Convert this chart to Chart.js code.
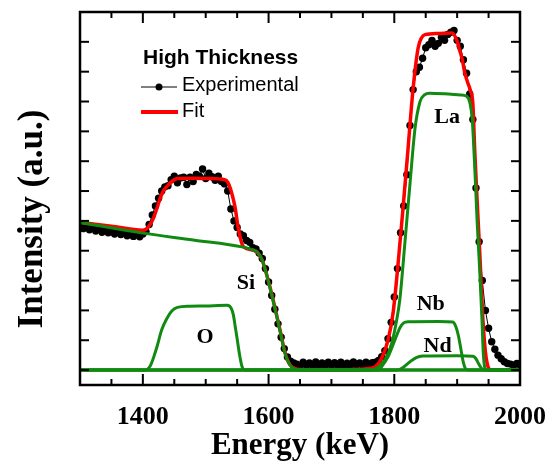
<!DOCTYPE html>
<html>
<head>
<meta charset="utf-8">
<script src="https://cdn.jsdelivr.net/npm/chart.js@4.4.1/dist/chart.umd.min.js"></script>
<style>
  html, body { margin: 0; padding: 0; background: #fff; }
  #chart { display: block; }
</style>
</head>
<body>
<canvas id="chart" width="548" height="465"></canvas>
<script>
// experimental spectrum (keV, a.u.)
const expEnergy = [
  1300, 1305, 1310, 1315, 1320, 1325, 1330, 1335, 1340, 1345, 1350, 1355, 1360, 1365, 1370, 1375, 1380, 1385, 1390, 1395,
  1400, 1405, 1410, 1415, 1420, 1425, 1430, 1435, 1440, 1445, 1450, 1455, 1460, 1465, 1470, 1475, 1480, 1485, 1490, 1495,
  1500, 1505, 1510, 1515, 1520, 1525, 1530, 1535, 1540, 1545, 1550, 1555, 1560, 1565, 1570, 1575, 1580, 1585, 1590, 1595,
  1600, 1605, 1610, 1615, 1620, 1625, 1630, 1635, 1640, 1645, 1650, 1655, 1660, 1665, 1670, 1675, 1680, 1685, 1690, 1695,
  1700, 1705, 1710, 1715, 1720, 1725, 1730, 1735, 1740, 1745, 1750, 1755, 1760, 1765, 1770, 1775, 1780, 1785, 1790, 1795,
  1800, 1805, 1810, 1815, 1820, 1825, 1830, 1835, 1840, 1845, 1850, 1855, 1860, 1865, 1870, 1875, 1880, 1885, 1890, 1895,
  1900, 1905, 1910, 1915, 1920, 1925, 1930, 1935, 1940, 1945, 1950, 1955, 1960, 1965, 1970, 1975, 1980, 1985, 1990, 1995,
  2000
];
const expIntensity = [
  4.88, 4.74, 4.82, 4.70, 4.80, 4.66, 4.78, 4.62, 4.74, 4.60, 4.70, 4.56, 4.68, 4.54, 4.64, 4.50, 4.62, 4.48, 4.60, 4.47,
  4.56, 4.64, 4.88, 5.20, 5.50, 5.76, 6.00, 6.14, 6.18, 6.38, 6.50, 6.28, 6.44, 6.46, 6.22, 6.46, 6.32, 6.56, 6.50, 6.74,
  6.42, 6.60, 6.48, 6.36, 6.50, 6.32, 6.24, 6.00, 5.40, 5.00, 4.78, 4.56, 4.50, 4.34, 4.28, 4.10, 4.06, 3.92, 3.74, 3.40,
  2.95, 2.50, 2.04, 1.55, 1.10, 0.72, 0.44, 0.30, 0.24, 0.20, 0.14, 0.26, 0.16, 0.24, 0.14, 0.27, 0.15, 0.24, 0.13, 0.26,
  0.16, 0.25, 0.14, 0.26, 0.16, 0.23, 0.14, 0.27, 0.16, 0.24, 0.15, 0.26, 0.18, 0.25, 0.26, 0.32, 0.45, 0.65, 1.05, 1.60,
  2.45, 3.40, 4.60, 5.50, 6.55, 8.20, 9.40, 10.00, 10.15, 10.45, 10.80, 10.90, 11.05, 10.85, 10.95, 11.15, 11.05, 11.25, 11.32, 11.38,
  11.05, 10.85, 10.40, 9.95, 9.25, 8.40, 6.10, 4.30, 3.00, 2.00, 1.40, 0.95, 0.70, 0.50, 0.38, 0.28, 0.22, 0.20, 0.16, 0.22,
  0.17
];

// total fit
const fitEnergy = [1300, 1350, 1400, 1405, 1411, 1416, 1422, 1427, 1432, 1438, 1446, 1455, 1480, 1505, 1530, 1535, 1539, 1543, 1547, 1551,
  1556, 1560, 1575, 1582, 1590, 1602, 1618, 1626, 1634, 1650, 1700, 1760, 1770, 1780, 1790, 1798, 1806, 1814, 1822, 1830,
  1838, 1843, 1849, 1870, 1892, 1900, 1904, 1908, 1912, 1917, 1921, 1925, 1928, 1932, 1936, 1941, 1945, 1948, 1952, 2000];
const fitIntensity = [4.95, 4.82, 4.69, 4.72, 4.86, 5.05, 5.40, 5.72, 5.98, 6.15, 6.32, 6.42, 6.43, 6.42, 6.38, 6.30, 6.10, 5.80, 5.42, 4.85,
  4.35, 4.13, 4.02, 3.95, 3.68, 2.80, 1.36, 0.60, 0.18, 0.02, 0.00, 0.05, 0.12, 0.40, 1.00, 1.90, 3.55, 5.45, 7.45, 9.45,
  10.80, 11.12, 11.24, 11.28, 11.30, 11.02, 10.72, 10.42, 9.98, 9.62, 9.38, 8.92, 7.35, 5.60, 3.92, 1.70, 0.60, 0.20, 0.02, 0.00];

// components
const siEnergy = [1300, 1400, 1480, 1560, 1575, 1582, 1590, 1602, 1618, 1626, 1634, 1642, 1650, 2000];
const siIntensity = [4.95, 4.59, 4.36, 4.12, 4.03, 3.96, 3.68, 2.78, 1.34, 0.57, 0.17, 0.03, 0.00, 0.00];

const oEnergy = [1300, 1403, 1412, 1422, 1430, 1438, 1446, 1455, 1475, 1500, 1534, 1538, 1541, 1544, 1547, 1550, 1554, 1558, 1562, 2000];
const oIntensity = [0.00, 0.00, 0.15, 0.75, 1.35, 1.72, 1.98, 2.10, 2.14, 2.15, 2.17, 2.14, 2.05, 1.85, 1.45, 1.05, 0.50, 0.10, 0.00, 0.00];

const laEnergy = [1300, 1765, 1772, 1785, 1796, 1804, 1809, 1817, 1825, 1833, 1841, 1848, 1856, 1880, 1905, 1915, 1920, 1924, 1928, 1932,
  1936, 1939.5, 1941.5, 1944.5, 1948, 2000];
const laIntensity = [0.00, 0.00, 0.07, 0.34, 0.90, 1.70, 2.40, 4.30, 6.25, 8.10, 9.00, 9.22, 9.28, 9.26, 9.22, 9.18, 8.98, 8.40, 6.80, 4.90,
  3.30, 1.70, 0.60, 0.05, 0.00, 0.00];

const nbEnergy = [1300, 1775, 1780, 1790, 1801, 1809, 1815, 1822, 1870, 1893, 1898, 1902, 1906, 1910, 1914, 1918, 2000];
const nbIntensity = [0.00, 0.00, 0.12, 0.44, 1.01, 1.42, 1.58, 1.62, 1.63, 1.61, 1.45, 1.15, 0.70, 0.25, 0.03, 0.00, 0.00];

const ndEnergy = [1300, 1805, 1812, 1825, 1835, 1845, 1900, 1925, 1930, 1934, 1938, 1942, 2000];
const ndIntensity = [0.00, 0.00, 0.06, 0.28, 0.42, 0.47, 0.48, 0.46, 0.38, 0.22, 0.08, 0.00, 0.00];

// axes
const xTickLabels = [1400, 1600, 1800, 2000];
const xTickMarks = [1300, 1350, 1400, 1450, 1500, 1550, 1600, 1650, 1700, 1750, 1800, 1850, 1900, 1950, 2000];
const yTickMarks = [0, 1, 2, 3, 4, 5, 6, 7, 8, 9, 10, 11, 12];

// peak names, in data coordinates
const peakLabels = [
  { text: 'La', x: 1884, y: 8.48 },
  { text: 'Si', x: 1564, y: 2.92 },
  { text: 'O', x: 1499, y: 1.11 },
  { text: 'Nb', x: 1858, y: 2.21 },
  { text: 'Nd', x: 1869, y: 0.80 }
];

const GREEN = '#118a11';
const SERIF = "'Liberation Serif', 'Times New Roman', serif";
const SANS = "'Liberation Sans', Arial, sans-serif";

function pairs(xs, ys) {
  return xs.map((x, i) => ({ x: x, y: ys[i] }));
}

function component(label, xs, ys) {
  return {
    label: label,
    data: pairs(xs, ys),
    borderColor: GREEN,
    borderWidth: 3,
    pointRadius: 0,
    cubicInterpolationMode: 'monotone',
    order: 0
  };
}

const decorPlugin = {
  id: 'decor',
  afterDatasetsDraw(chart) {
    const { ctx, chartArea: a, scales: { x, y } } = chart;
    ctx.save();
    ctx.strokeStyle = '#000';
    ctx.fillStyle = '#000';

    const seg = (x1, y1, x2, y2) => {
      ctx.beginPath();
      ctx.moveTo(x1, y1);
      ctx.lineTo(x2, y2);
      ctx.stroke();
    };

    // inward ticks
    ctx.lineWidth = 2;
    xTickMarks.forEach(v => {
      const px = x.getPixelForValue(v);
      const len = xTickLabels.includes(v) ? 11 : 6;
      seg(px, a.bottom, px, a.bottom - len);
      seg(px, a.top, px, a.top + len);
    });
    yTickMarks.forEach(v => {
      const py = y.getPixelForValue(v);
      seg(a.left, py, a.left + 9, py);
      seg(a.right, py, a.right - 9, py);
    });

    ctx.lineWidth = 2.5;
    ctx.strokeRect(a.left, a.top, a.right - a.left, a.bottom - a.top);

    // peak names
    ctx.font = 'bold 22px ' + SERIF;
    ctx.textAlign = 'center';
    ctx.textBaseline = 'middle';
    peakLabels.forEach(p => {
      ctx.fillText(p.text, x.getPixelForValue(p.x), y.getPixelForValue(p.y));
    });

    // legend
    const lx = a.left + 61;
    ctx.textAlign = 'left';
    ctx.font = 'bold 21px ' + SANS;
    ctx.fillText('High Thickness', a.left + 63, a.top + 46);

    ctx.lineWidth = 1;
    seg(lx, a.top + 75, lx + 36, a.top + 75);
    ctx.beginPath();
    ctx.arc(lx + 18, a.top + 75, 3.5, 0, Math.PI * 2);
    ctx.fill();
    ctx.font = '20px ' + SANS;
    ctx.fillText('Experimental', a.left + 102, a.top + 73);

    ctx.strokeStyle = '#ff0000';
    ctx.lineWidth = 4;
    seg(lx, a.top + 100, lx + 37, a.top + 100);
    ctx.fillText('Fit', a.left + 102, a.top + 99);
    ctx.restore();
  },
  afterDraw(chart) {
    const { ctx } = chart;
    ctx.save();
    ctx.translate(33, 219);
    ctx.rotate(-Math.PI / 2);
    ctx.font = 'bold 35px ' + SERIF;
    ctx.fillStyle = '#000';
    ctx.textAlign = 'center';
    ctx.textBaseline = 'middle';
    ctx.fillText('Intensity (a.u.)', 0, 0);
    ctx.restore();
  }
};

new Chart(document.getElementById('chart'), {
  type: 'line',
  data: {
    datasets: [
      component('La', laEnergy, laIntensity),
      component('Nb', nbEnergy, nbIntensity),
      component('Nd', ndEnergy, ndIntensity),
      component('O', oEnergy, oIntensity),
      component('Si', siEnergy, siIntensity),
      {
        label: 'Fit',
        data: pairs(fitEnergy, fitIntensity),
        borderColor: '#ff0000',
        borderWidth: 3.5,
        pointRadius: 0,
        cubicInterpolationMode: 'monotone',
        order: 1
      },
      {
        label: 'Experimental',
        data: pairs(expEnergy, expIntensity),
        borderColor: '#000',
        borderWidth: 1,
        pointRadius: 3.7,
        pointBackgroundColor: '#000',
        pointBorderWidth: 0,
        order: 2
      }
    ]
  },
  options: {
    responsive: false,
    animation: false,
    devicePixelRatio: 1,
    layout: { padding: { top: 12, right: 28, left: 0, bottom: 0 } },
    plugins: { legend: { display: false }, tooltip: { enabled: false } },
    scales: {
      x: {
        type: 'linear',
        min: 1300,
        max: 2000,
        grid: { display: false },
        border: { display: false },
        afterBuildTicks: s => { s.ticks = xTickLabels.map(v => ({ value: v })); },
        afterFit: s => { s.height = 80; s.paddingLeft = 0; s.paddingRight = 0; },
        ticks: {
          color: '#000',
          padding: 9,
          maxRotation: 0,
          callback: v => String(v),
          font: { family: SERIF, size: 26, weight: 'bold' }
        },
        title: {
          display: true,
          text: 'Energy (keV)',
          color: '#000',
          padding: 0,
          font: { family: SERIF, size: 31, weight: 'bold' }
        }
      },
      y: {
        type: 'linear',
        min: -0.5,
        max: 12,
        grid: { display: false },
        border: { display: false },
        ticks: { display: false },
        afterFit: s => { s.width = 80; s.paddingTop = 0; s.paddingBottom = 0; }
      }
    }
  },
  plugins: [decorPlugin]
});
</script>
</body>
</html>
